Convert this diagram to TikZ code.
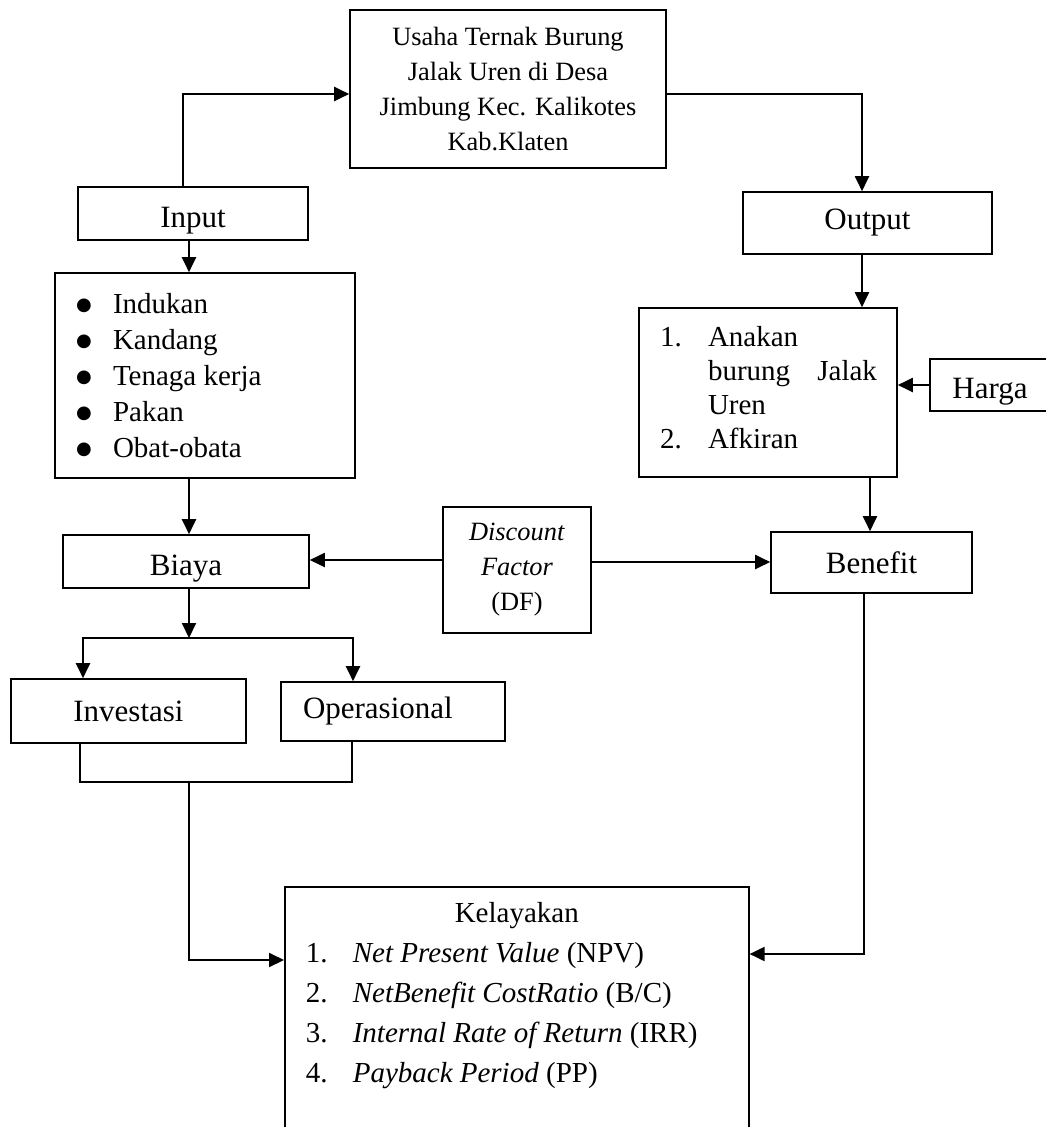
\documentclass[tikz,border=0pt]{standalone}
\usepackage{fontspec}
\setmainfont{Liberation Serif}
\newfontfamily\bulfont{DejaVu Sans}
\usetikzlibrary{arrows.meta}
\tikzset{
  box/.style={draw, line width=1.6pt, inner sep=0pt},
  lbl/.style={box, font=\fontsize{31pt}{36pt}\selectfont},
  arr/.style={line width=2pt, -{Triangle[length=15pt,width=14pt]}},
  ln/.style={line width=2pt},
}
\newcommand{\bigbul}{\makebox[37pt][l]{\raisebox{2.5pt}{\bulfont\fontsize{18pt}{18pt}\selectfont ●}}}
\begin{document}
\begin{tikzpicture}[x=1pt,y=-1pt]
\fill[white] (0,0) rectangle (1046,1127);
\path[use as bounding box] (0,0) rectangle (1046,1127);
\clip (0,0) rectangle (1046,1127);

\node[box] (top) at (508,89) {\begin{minipage}[c][158pt][c]{316pt}\centering\fontsize{26.4pt}{35pt}\selectfont Usaha Ternak Burung\\Jalak Uren di Desa\\Jimbung Kec. Kalikotes\\Kab.Klaten\end{minipage}};

\node[lbl, minimum width=230pt, minimum height=53pt, text height=27pt, text depth=0pt] (input) at (193,213.5) {Input};

\node[box] (inlist) at (205,375.5) {\begin{minipage}[c][205pt][c]{300pt}\fontsize{29pt}{36pt}\selectfont
\hspace*{21pt}\bigbul Indukan\par
\hspace*{21pt}\bigbul Kandang\par
\hspace*{21pt}\bigbul Tenaga kerja\par
\hspace*{21pt}\bigbul Pakan\par
\hspace*{21pt}\bigbul Obat-obata\par
\end{minipage}};

\node[lbl, minimum width=249pt, minimum height=62pt] (output) at (867.5,223) {Output};

\node[box] (outlist) at (768,392.5) {\begin{minipage}[t][169pt][t]{258pt}\fontsize{29pt}{34pt}\selectfont
\rule{0pt}{38pt}\hspace*{21pt}\makebox[48pt][l]{1.}Anakan\par
\hspace*{69pt}\makebox[169pt]{burung\hfill Jalak}\par
\hspace*{69pt}Uren\par
\hspace*{21pt}\makebox[48pt][l]{2.}Afkiran\par
\end{minipage}};

\node[lbl, minimum width=120pt, minimum height=52pt, text height=26pt, text depth=0pt] (harga) at (990,385) {Harga};

\node[lbl, minimum width=246pt, minimum height=53pt, text height=27pt, text depth=0pt] (biaya) at (186,561.5) {Biaya};

\node[box] (df) at (517,570) {\begin{minipage}[c][126pt][c]{148pt}\centering\fontsize{26.4pt}{35pt}\selectfont\textit{Discount}\\\textit{Factor}\\(DF)\end{minipage}};

\node[lbl, minimum width=201pt, minimum height=61pt] (benefit) at (871.5,562.5) {Benefit};

\node[lbl, minimum width=235pt, minimum height=64pt] (invest) at (128.5,711) {Investasi};

\node[lbl, minimum height=59pt, text width=180pt, align=left, inner xsep=22pt] (oper) at (393,711.5) {Operasional};

\node[box, anchor=north west] (kel) at (284,886) {\begin{minipage}[t][280pt][t]{464pt}\fontsize{29pt}{40pt}\selectfont
\rule{0pt}{36pt}\makebox[\linewidth]{Kelayakan}\par
\hspace*{21pt}\makebox[47pt][l]{1.}\textit{Net Present Value} (NPV)\par
\hspace*{21pt}\makebox[47pt][l]{2.}\textit{NetBenefit CostRatio} (B/C)\par
\hspace*{21pt}\makebox[47pt][l]{3.}\textit{Internal Rate of Return} (IRR)\par
\hspace*{21pt}\makebox[47pt][l]{4.}\textit{Payback Period} (PP)\par
\end{minipage}};

% connectors
\draw[arr] ([xshift=-10pt]input.north) |- ([yshift=-5pt]top.west);
\draw[arr] ([yshift=-5pt]top.east) -| ([xshift=-5.5pt]output.north);
\draw[arr] ([xshift=-4pt]input.south) -- ([xshift=-4pt]input.south |- inlist.north);
\draw[arr] ([xshift=3pt]biaya.north |- inlist.south) -- ([xshift=3pt]biaya.north);
\draw[arr] ([xshift=-5.5pt]output.south) -- ([xshift=-5.5pt]output.south |- outlist.north);
\draw[arr] (harga.west) -- (harga.west -| outlist.east);
\draw[arr] ([xshift=-1.5pt]benefit.north |- outlist.south) -- ([xshift=-1.5pt]benefit.north);
\draw[arr] ([yshift=10pt]df.west) -- ([yshift=10pt]df.west -| biaya.east);
\draw[arr] ([yshift=8pt]df.east) -- ([yshift=8pt]df.east -| benefit.west);
\coordinate (split) at (189,638);
\draw[arr] ([xshift=3pt]biaya.south) -- (split);
\draw[arr] (split) -| ([xshift=-45.5pt]invest.north);
\draw[arr] (split) -| ([xshift=-40pt]oper.north);
\coordinate (join) at (189,782);
\draw[ln] ([xshift=-48.5pt]invest.south) |- (join) -| ([xshift=-41pt]oper.south);
\draw[arr] (join) |- ([yshift=-74pt]kel.north west);
\draw[arr] ([xshift=-7.5pt]benefit.south) |- ([yshift=-68pt]kel.north east);
\end{tikzpicture}
\end{document}
